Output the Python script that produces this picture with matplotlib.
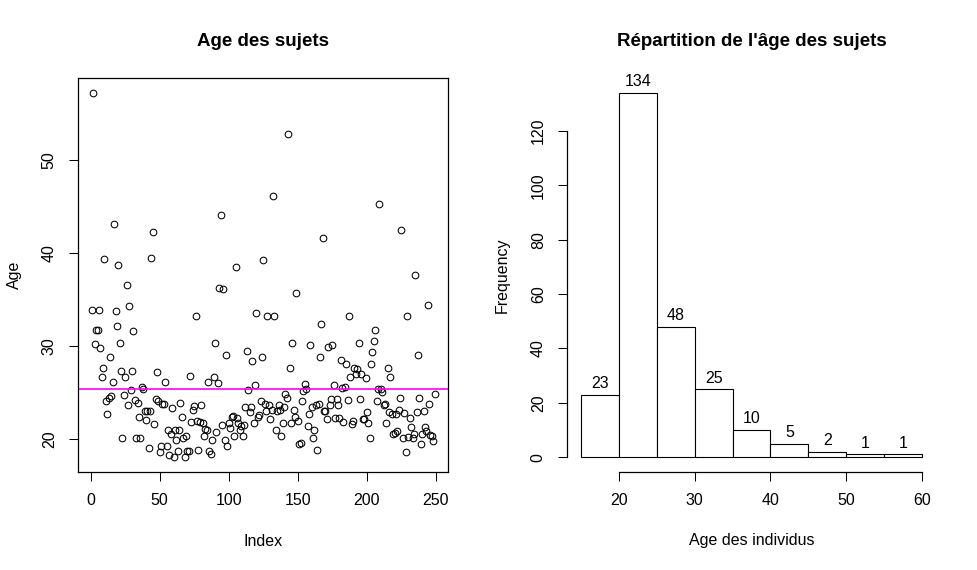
import numpy as np
import matplotlib
matplotlib.use("Agg")
import matplotlib.pyplot as plt

age = [
    33.9, 57.2, 30.2, 31.8, 31.7, 33.9, 29.8, 26.7, 27.7, 39.4,
    24.1, 22.7, 24.5, 28.9, 24.7, 26.2, 43.1, 33.8, 32.2, 38.7,
    30.3, 27.3, 20.2, 24.8, 26.7, 36.6, 23.7, 34.3, 25.3, 27.3,
    31.6, 24.2, 20.1, 23.9, 22.4, 20.2, 25.6, 25.4, 23.0, 22.1, 23.0,
    19.1, 23.0, 39.5, 42.3, 21.7, 24.3, 27.2, 24.1, 18.6, 19.3,
    23.8, 23.8, 26.2, 19.3, 21.0, 18.3, 20.6, 23.4, 18.1, 21.0,
    19.9, 18.8, 21.0, 23.9, 22.4,
    20.2, 18.1, 20.4, 18.8, 18.8, 26.8, 21.9, 23.2, 23.6, 33.2,
    22.0, 18.9, 21.9, 23.7, 21.8, 20.4, 21.1, 21.0, 26.2, 18.8,
    18.4, 19.9, 26.7, 30.3, 20.8, 26.1, 36.3, 44.1, 21.6, 36.1,
    19.9, 29.1, 19.3, 21.8, 21.2, 22.4, 22.5, 20.4, 38.5, 22.3, 21.8,
    21.0, 21.4, 20.4, 21.5, 23.5, 29.5, 25.3, 22.9, 23.5, 28.4,
    21.8, 25.8, 33.6, 22.4, 22.6, 24.1, 28.8, 39.3,
    23.8, 23.0, 33.2, 23.7, 22.2, 23.2, 46.1, 33.2, 21.0, 23.1,
    23.7, 23.2, 20.4, 21.8, 23.5, 24.9, 24.5, 52.8, 27.7, 21.8,
    30.4, 23.2, 22.4, 35.7, 22.0, 19.5, 19.6, 24.1, 25.2, 26.0, 25.4,
    21.4, 22.7, 30.1, 23.5, 20.1, 21.0, 23.7, 18.9, 23.8, 28.9,
    32.4, 41.6, 23.1, 23.1, 22.2, 29.9, 23.7, 24.3, 30.1, 25.8,
    22.3, 24.3, 23.7, 22.3, 28.5, 25.5, 21.9, 25.6, 28.1, 24.2,
    33.3, 26.7, 21.7, 22.0, 27.7,
    27.0, 27.6, 30.4, 24.3, 27.0, 22.2, 22.2, 26.6, 22.9, 21.8,
    20.1, 28.1, 29.4, 30.6, 31.7, 24.1, 25.4, 45.3, 25.4, 25.1,
    23.7, 23.8, 21.8, 27.7, 22.9, 26.7, 22.7, 20.6, 20.7, 22.7,
    20.9, 23.2, 24.5, 42.5, 20.2, 22.8, 18.6, 33.3, 20.3, 22.3,
    21.3, 20.1, 20.6, 37.6, 22.9, 29.1, 24.4, 19.5, 20.6, 23.0,
    21.3, 20.9, 34.4, 23.8, 20.5, 20.4, 19.8, 24.9,
]
breaks = [15, 20, 25, 30, 35, 40, 45, 50, 55, 60]
x_ticks = [0, 50, 100, 150, 200, 250]
y_ticks_age = [20, 30, 40, 50]
y_ticks_freq = [0, 20, 40, 60, 80, 100, 120]
x_ticks_hist = [20, 30, 40, 50, 60]

plt.rcParams['font.family'] = ['Liberation Sans', 'DejaVu Sans']
FS = 11.5

fig = plt.figure(figsize=(9.78, 5.7), dpi=100)

# --- nuage de points ---
ax1 = fig.add_axes([0.0801, 0.1725, 0.3783, 0.690])
index = np.arange(1, len(age) + 1)
ax1.plot(index, age, 'o', ms=4.8, mfc='none', mec='black', mew=0.75)
ax1.axhline(np.mean(age), color='#FF00FF', lw=1.2)

n = len(age)
ax1.set_xlim(1 - 0.04 * (n - 1), n + 0.04 * (n - 1))
r = max(age) - min(age)
ax1.set_ylim(min(age) - 0.04 * r, max(age) + 0.04 * r)
ax1.set_xticks(x_ticks)
ax1.set_yticks(y_ticks_age)
ax1.tick_params(direction='out', length=6.5, width=0.75, labelsize=FS, pad=9)
ax1.tick_params(axis='y', labelrotation=90)
for lab in ax1.get_yticklabels():
    lab.set_va('center')
for s in ax1.spines.values():
    s.set_linewidth(0.9)

fig.text(263.3 / 978, 1 - 42 / 570, "Age des sujets", ha='center', va='center',
         fontsize=13.5, fontweight='bold')
fig.text(263.3 / 978, 1 - 541 / 570, "Index", ha='center', va='center', fontsize=FS)
fig.text(14 / 978, 1 - 275 / 570, "Age", ha='center', va='center', fontsize=FS, rotation=90)

# --- histogramme ---
ax2 = fig.add_axes([0.5801, 0.1725, 0.3766, 0.690])
counts, edges, patches = ax2.hist(age, bins=breaks, facecolor='white',
                                  edgecolor='black', linewidth=0.8)
for c, left, right in zip(counts, edges[:-1], edges[1:]):
    ax2.annotate(str(int(c)), ((left + right) / 2, c), xytext=(0, 2.5),
                 textcoords='offset points', ha='center', va='bottom', fontsize=FS)

ax2.set_xlim(15 - 0.04 * 45, 60 + 0.04 * 45)
top = counts.max()
ax2.set_ylim(-0.04 * top, top * 1.04)
ax2.set_xticks(x_ticks_hist)
ax2.set_yticks(y_ticks_freq)
ax2.tick_params(direction='out', length=6.5, width=0.75, labelsize=FS, pad=9)
ax2.tick_params(axis='y', labelrotation=90)
for lab in ax2.get_yticklabels():
    lab.set_va('center')
ax2.spines['top'].set_visible(False)
ax2.spines['right'].set_visible(False)
ax2.spines['left'].set_bounds(0, 120)
ax2.spines['bottom'].set_bounds(20, 60)
ax2.spines['left'].set_linewidth(0.9)
ax2.spines['bottom'].set_linewidth(0.9)

fig.text(751.5 / 978, 1 - 41 / 570, "Répartition de l'âge des sujets", ha='center',
         va='center', fontsize=13.5, fontweight='bold')
fig.text(751.5 / 978, 1 - 541 / 570, "Age des individus", ha='center', va='center', fontsize=FS)
fig.text(502 / 978, 1 - 275 / 570, "Frequency", ha='center', va='center', fontsize=FS, rotation=90)

fig.savefig("out.png", dpi=100)
